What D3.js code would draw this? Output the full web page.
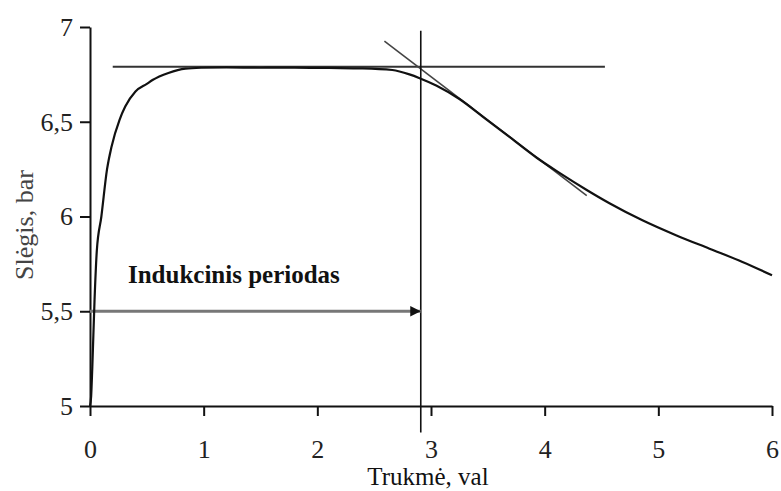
<!DOCTYPE html>
<html>
<head>
<meta charset="utf-8">
<script src="https://cdn.jsdelivr.net/npm/d3@7"></script>
<style>
  body { margin: 0; background: #fff; }
  svg { display: block; }
  text { font-family: "Liberation Serif", "Times New Roman", serif; }
</style>
</head>
<body>
<div id="chart"></div>
<script>
// pressure curve
const timeH = [0, 0.01, 0.02, 0.04, 0.06, 0.1, 0.15, 0.19, 0.26, 0.31, 0.4, 0.5, 0.55, 0.69, 0.84, 0.98,
  1.2, 1.5, 1.8, 2.1, 2.4, 2.66, 2.81, 2.9, 3.05, 3.25, 3.46, 3.69, 3.93, 4.13, 4.37, 4.57, 4.86,
  5.16, 5.45, 5.74, 6.0];
const pressure = [5.0, 5.05, 5.2, 5.56, 5.82, 6.0, 6.25, 6.37, 6.51, 6.58, 6.66, 6.70, 6.72, 6.757, 6.78, 6.785,
  6.787, 6.785, 6.786, 6.784, 6.782, 6.773, 6.75, 6.73, 6.69, 6.62, 6.525, 6.42, 6.31, 6.23, 6.14, 6.07, 5.98,
  5.90, 5.83, 5.76, 5.69];

const xTicks = [0, 1, 2, 3, 4, 5, 6];
const yTicks = [5, 5.5, 6, 6.5, 7];

// construction lines
const plateauLine = [[0.2, 6.79], [4.53, 6.79]];
const tangentLine = [[2.59, 6.926], [4.37, 6.11]];
const inductionEnd = 2.91;
const arrowLevel = 5.5;
const periodLabel = "Indukcinis periodas";

const width = 781, height = 491;
const margin = {top: 27, right: 9, bottom: 85, left: 90};

const svg = d3.select("#chart").append("svg")
  .attr("width", width).attr("height", height);

const x = d3.scaleLinear().domain([0, 6]).range([margin.left, width - margin.right]);
const y = d3.scaleLinear().domain([5, 7]).range([height - margin.bottom, margin.top]);

svg.append("defs").append("marker")
  .attr("id", "arrow")
  .attr("viewBox", "0 0 10 10")
  .attr("refX", 10).attr("refY", 5)
  .attr("markerWidth", 4).attr("markerHeight", 3.5)
  .attr("markerUnits", "strokeWidth")
  .attr("orient", "auto")
  .append("path").attr("d", "M0,0L10,5L0,10Z").attr("fill", "#111");

// axes
const xAxis = svg.append("g")
  .attr("transform", `translate(0,${y(5)})`)
  .call(d3.axisBottom(x).tickValues(xTicks).tickSize(10).tickPadding(24).tickSizeOuter(0)
    .tickFormat(d3.format("d")));
const yAxis = svg.append("g")
  .attr("transform", `translate(${x(0)},0)`)
  .call(d3.axisLeft(y).tickValues(yTicks).tickSize(10).tickPadding(7).tickSizeOuter(0)
    .tickFormat(d => String(d).replace(".", ",")));

[xAxis, yAxis].forEach(g => {
  g.select(".domain").attr("stroke", "#111").attr("stroke-width", 2);
  g.selectAll(".tick line").attr("stroke", "#111").attr("stroke-width", 2);
  g.selectAll(".tick text").attr("font-size", 26).attr("fill", "#222")
    .style("font-family", "'Liberation Serif', serif");
});

svg.append("text")
  .attr("x", 428).attr("y", 485)
  .attr("text-anchor", "middle")
  .attr("font-size", 25).attr("fill", "#111")
  .text("Trukmė, val");

svg.append("text")
  .attr("transform", "translate(33,225) rotate(-90)")
  .attr("text-anchor", "middle")
  .attr("font-size", 26).attr("fill", "#444")
  .text("Slėgis, bar");

// construction lines
const seg = d3.line().x(d => x(d[0])).y(d => y(d[1]));

svg.append("path").datum(plateauLine)
  .attr("d", seg).attr("stroke", "#333").attr("stroke-width", 2).attr("fill", "none");
svg.append("path").datum(tangentLine)
  .attr("d", seg).attr("stroke", "#444").attr("stroke-width", 1.6).attr("fill", "none");
svg.append("line")
  .attr("x1", x(inductionEnd)).attr("x2", x(inductionEnd))
  .attr("y1", y(6.98)).attr("y2", y(4.86))
  .attr("stroke", "#111").attr("stroke-width", 1.6);

svg.append("line")
  .attr("x1", x(0)).attr("x2", x(inductionEnd))
  .attr("y1", y(arrowLevel)).attr("y2", y(arrowLevel))
  .attr("stroke", "#777").attr("stroke-width", 3)
  .attr("marker-end", "url(#arrow)");

svg.append("text")
  .attr("x", x(0.334)).attr("y", y(5.649))
  .attr("font-size", 25).attr("font-weight", "bold").attr("fill", "#111")
  .text(periodLabel);

// measured pressure curve
const curve = d3.line()
  .x((d, i) => x(timeH[i]))
  .y(d => y(d))
  .curve(d3.curveMonotoneX);

svg.append("path").datum(pressure)
  .attr("d", curve)
  .attr("fill", "none")
  .attr("stroke", "#111")
  .attr("stroke-width", 2.2);
</script>
</body>
</html>
